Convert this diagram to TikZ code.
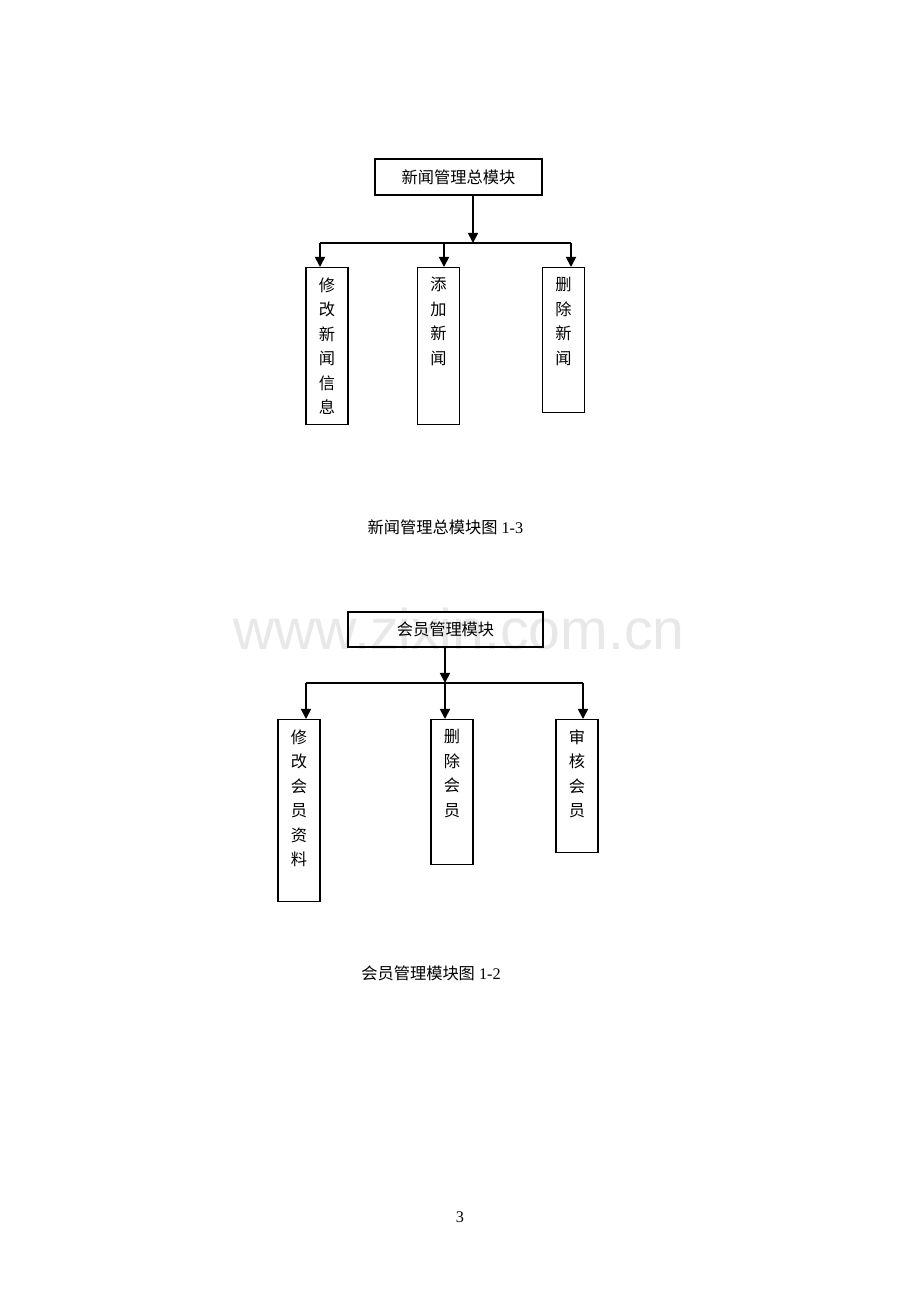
\documentclass[tikz,border=0pt]{standalone}
\usepackage{fontspec}
\setmainfont{Liberation Serif}
\setsansfont{Liberation Sans}
\newfontfamily\cjk{Noto Sans CJK SC}
\usetikzlibrary{arrows.meta, positioning, calc}
\tikzset{
    module/.style={
        rectangle,
        draw=black,
        line width=0.8pt,
        inner sep=0pt,
        font=\cjk\fontsize{10.5}{12}\selectfont,
    },
    leaf/.style={
        rectangle,
        draw=black,
        line width=0.8pt,
        minimum width=27.2pt,
        inner sep=0pt,
        anchor=north,
    },
    leaftext/.style={
        align=center,
        inner sep=0pt,
        font=\cjk\fontsize{10.5}{15.85}\selectfont,
    },
    caption/.style={
        inner sep=0pt,
        font=\fontsize{10.5}{12}\selectfont,
    },
    link/.style={line width=1.1pt},
}

\begin{document}
\begin{tikzpicture}[x=0.647pt, y=-0.647pt, >={Triangle[width=6.5pt,length=6.5pt]}]
    \useasboundingbox[fill=white] (0,0) rectangle (920,1302);

    % watermark, behind everything
    \node[text=black!9, inner sep=0pt, anchor=base, font=\sffamily\fontsize{37}{40}\selectfont] (watermark) at (459,649) {www.zixin.com.cn};

    % news module
    \node [module, minimum width=108pt, minimum height=23.3pt] (news) at (458.5,177) {新闻管理总模块};
    \coordinate (newsbus) at (473,243);
    \coordinate (newsbus-l) at (320,243);
    \coordinate (newsbus-m) at (444,243);
    \coordinate (newsbus-r) at (571,243);

    \node [leaf, minimum height=101.6pt] (editnews) at (327,267) {};
    \node [leaf, minimum height=101.6pt] (addnews) at (438.5,267) {};
    \node [leaf, minimum height=93.8pt] (delnews) at (563.5,267) {};
    \node [leaftext, below=6.6pt of editnews.north] {修\\改\\新\\闻\\信\\息};
    \node [leaftext, below=6.6pt of addnews.north] {添\\加\\新\\闻};
    \node [leaftext, below=6.6pt of delnews.north] {删\\除\\新\\闻};

    \draw[link, ->] (news.south -| newsbus) -- (newsbus);
    \draw[link] (newsbus-l) -- (newsbus-r);
    \draw[link, ->] (newsbus-l) -- (newsbus-l |- editnews.north);
    \draw[link, ->] (newsbus-m) -- (newsbus-m |- addnews.north);
    \draw[link, ->] (newsbus-r) -- (newsbus-r |- delnews.north);

    \node [caption] (newscap) at (445.5,527) {{\cjk 新闻管理总模块图} 1-3};

    % member module
    \node [module, minimum width=126.2pt, minimum height=22.6pt] (member) at (445.5,629.5) {会员管理模块};
    \coordinate (memberbus-l) at (306,683);
    \coordinate (memberbus-m) at (445,683);
    \coordinate (memberbus-r) at (583,683);

    \node [leaf, minimum height=117.8pt] (editmember) at (299,719) {};
    \node [leaf, minimum height=93.8pt] (delmember) at (452,719) {};
    \node [leaf, minimum height=86.1pt] (checkmember) at (577,719) {};
    \node [leaftext, below=6.6pt of editmember.north] {修\\改\\会\\员\\资\\料};
    \node [leaftext, below=6.6pt of delmember.north] {删\\除\\会\\员};
    \node [leaftext, below=6.6pt of checkmember.north] {审\\核\\会\\员};

    \draw[link, ->] (member.south -| memberbus-m) -- (memberbus-m);
    \draw[link] (memberbus-l) -- (memberbus-r);
    \draw[link, ->] (memberbus-l) -- (memberbus-l |- editmember.north);
    \draw[link, ->] (memberbus-m) -- (memberbus-m |- delmember.north);
    \draw[link, ->] (memberbus-r) -- (memberbus-r |- checkmember.north);

    \node [caption] (membercap) at (431,973) {{\cjk 会员管理模块图} 1-2};

    \node [caption] (pagenum) at (460,1217) {3};
\end{tikzpicture}
\end{document}
